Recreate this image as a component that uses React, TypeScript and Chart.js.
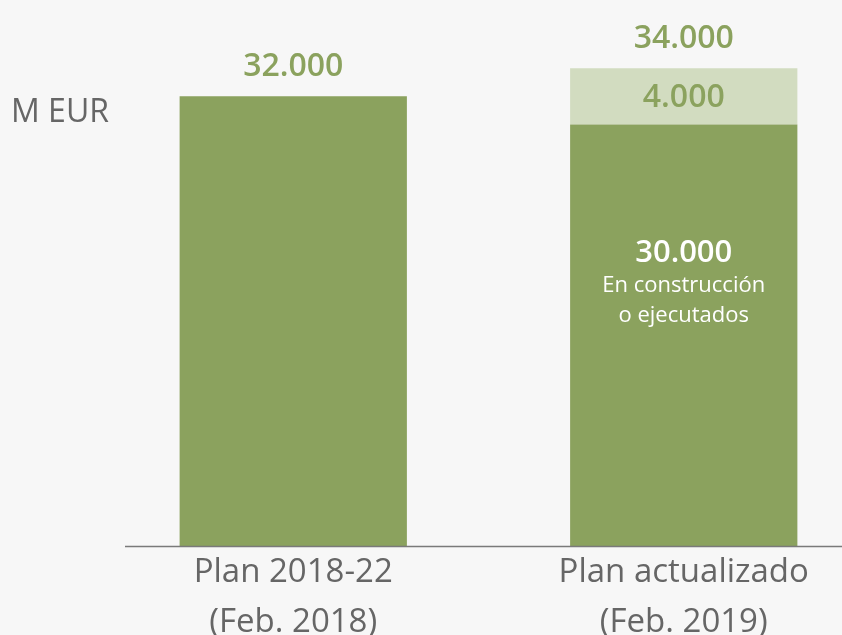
import React, { useEffect, useRef } from "react";
import { Chart, registerables } from "chart.js";

Chart.register(...registerables);

const categories: string[][] = [
  ["Plan 2018-22", "(Feb. 2018)"],
  ["Plan actualizado", "(Feb. 2019)"],
];
const baseValues = [32000, 30000];
const extraValues = [0, 4000];
const totalLabels = ["32.000", "34.000"];
const extraLabels = ["", "4.000"];
const innerLabels = ["", "30.000"];
const innerNotes = [[], ["En construcción", "o ejecutados"]];
const unitLabel = "M EUR";

const DARK = "#8ba25e";
const LIGHT = "#d2dcc0";
const BG = "#f7f7f7";
const FONT = "'Open Sans', sans-serif";

export default function App() {
  const ref = useRef<HTMLCanvasElement | null>(null);

  useEffect(() => {
    document.body.style.margin = "0";
    document.body.style.background = BG;
    const canvas = ref.current;
    if (!canvas) return;

    const labelPlugin = {
      id: "labels",
      beforeDraw(chart: any) {
        const { ctx } = chart;
        ctx.save();
        ctx.fillStyle = BG;
        ctx.fillRect(0, 0, chart.width, chart.height);
        ctx.restore();
      },
      afterDatasetsDraw(chart: any) {
        const { ctx } = chart;
        const m0 = chart.getDatasetMeta(0);
        const m1 = chart.getDatasetMeta(1);
        const yScale = chart.scales.y;
        ctx.save();
        const y0 = yScale.getPixelForValue(0);
        ctx.strokeStyle = "#7a7a7a";
        ctx.lineWidth = 1.5;
        ctx.beginPath();
        ctx.moveTo(125, y0 + 0.5);
        ctx.lineTo(chart.width, y0 + 0.5);
        ctx.stroke();

        ctx.fillStyle = "#666666";
        ctx.font = `32px ${FONT}`;
        ctx.textAlign = "left";
        ctx.textBaseline = "alphabetic";
        ctx.fillText(unitLabel, 11, 122);

        ctx.textAlign = "center";
        for (let i = 0; i < baseValues.length; i++) {
          const bar = m0.data[i];
          const x = bar.x;
          const total = baseValues[i] + extraValues[i];
          const topY = yScale.getPixelForValue(total);
          ctx.fillStyle = DARK;
          ctx.font = `600 32px ${FONT}`;
          ctx.fillText(totalLabels[i], x, topY - 20);
          if (extraValues[i] > 0) {
            const eb = m1.data[i];
            const mid = (eb.y + eb.base) / 2;
            ctx.fillText(extraLabels[i], x, mid + 11);
          }
          if (innerLabels[i]) {
            ctx.fillStyle = "#ffffff";
            ctx.font = `600 31px ${FONT}`;
            ctx.fillText(innerLabels[i], x, 262);
            ctx.font = `22px ${FONT}`;
            innerNotes[i].forEach((t: string, k: number) => {
              ctx.fillText(t, x, 292 + k * 30);
            });
          }
        }
        ctx.restore();
      },
    };

    const chart = new Chart(canvas, {
      type: "bar",
      data: {
        labels: categories,
        datasets: [
          {
            data: baseValues,
            backgroundColor: DARK,
            barPercentage: 0.582,
            categoryPercentage: 1,
          },
          {
            data: extraValues,
            backgroundColor: LIGHT,
            barPercentage: 0.582,
            categoryPercentage: 1,
          },
        ],
      },
      options: {
        responsive: false,
        animation: false,
        layout: { padding: { left: 98, right: 1, top: 12, bottom: 0 } },
        plugins: { legend: { display: false }, tooltip: { enabled: false } },
        scales: {
          x: {
            stacked: true,
            grid: { display: false, drawTicks: false },
            border: { display: false },
            afterFit: (scale: any) => {
              scale.height = 94;
            },
            ticks: {
              color: "#666666",
              font: { family: FONT, size: 33, lineHeight: 1.5 },
              padding: 2,
              maxRotation: 0,
              autoSkip: false,
            },
          },
          y: {
            stacked: true,
            display: false,
            min: 0,
            max: 38000,
          },
        },
      },
      plugins: [labelPlugin],
    });
    return () => chart.destroy();
  }, []);

  return (
    <div style={{ width: 842, height: 635, overflow: "hidden", position: "relative", background: BG }}>
      <canvas ref={ref} width={880} height={640} style={{ position: "absolute", left: 0, top: 0 }} />
    </div>
  );
}
